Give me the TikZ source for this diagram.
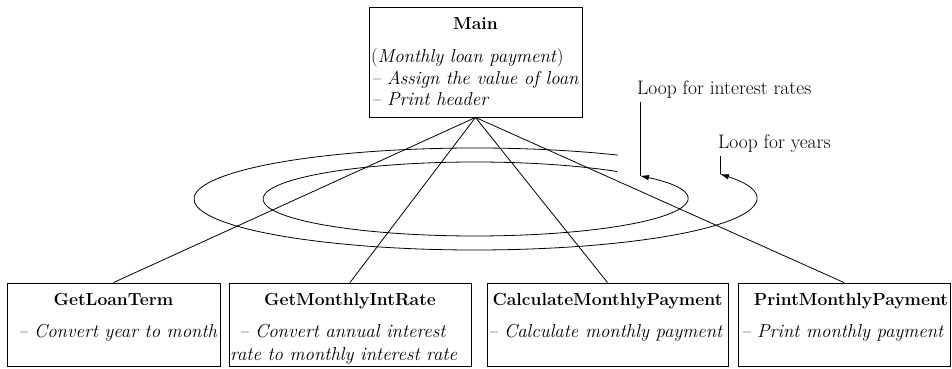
\documentclass[tikz,border=0pt]{standalone}
\usetikzlibrary{arrows.meta,calc}
\begin{document}
\begin{tikzpicture}[x=1pt,y=1pt,
  box/.style={draw, line width=0.9pt, inner sep=0pt, minimum height=83pt},
  ttl/.style={font=\fontsize{17.5}{21}\selectfont\bfseries, anchor=base, inner sep=0pt},
  desc/.style={font=\fontsize{18.8}{22}\selectfont\itshape, anchor=base west, inner sep=0pt},
  looplbl/.style={font=\fontsize{19.5}{22}\selectfont, anchor=base west, inner sep=3pt},
  link/.style={line width=0.8pt},
  loop/.style={line width=0.8pt, -{Latex[length=9pt,width=5.5pt]}},
  ]
\useasboundingbox (0,0) rectangle (952,369);

% main module
\node[box, minimum width=213pt, minimum height=110pt] (main) at (475.5,307) {};
\node[ttl] (mainT) at (475.5,339) {Main};
\node[desc] (mainA) at (371,306) {\textup{(}Monthly loan payment\textup{)}};
\node[desc] (mainB) at (371,284) {\textendash{} Assign the value of loan};
\node[desc] (mainC) at (371,263) {\textendash{} Print header};

% sub-modules
\node[box, minimum width=213pt] (b1) at (113.5,44.5) {};
\node[box, minimum width=242pt] (b2) at (350,44.5) {};
\node[box, minimum width=241pt] (b3) at (607.5,44.5) {};
\node[box, minimum width=212pt] (b4) at (844,44.5) {};

\node[ttl] (b1T) at (113.5,63) {GetLoanTerm};
\node[ttl] (b2T) at (350,63) {GetMonthlyIntRate};
\node[ttl] (b3T) at (607.5,63) {CalculateMonthlyPayment};
\node[ttl] (b4T) at (851,63) {PrintMonthlyPayment};

\node[desc] (b1D) at (18,31) {\textendash{} Convert year to month};
\node[desc] (b2D) at (239,31) {\textendash{} Convert annual interest};
\node[desc] (b2E) at (230,9) {rate to monthly interest rate};
\node[desc] (b3D) at (488,31) {\textendash{} Calculate monthly payment};
\node[desc] (b4D) at (741,31) {\textendash{} Print monthly payment};

% calls from the main module
\draw[link] (main.south) -- (b1.north);
\draw[link] (main.south) -- (b2.north);
\draw[link] (main.south) -- (b3.north);
\draw[link] (main.south) -- (b4.north);

% loops
\coordinate (c) at (475,170);
\coordinate (outS) at ($(c)+(59.4:281 and 51)$);
\coordinate (outE) at ($(c)+(29.3:281 and 51)$);
\coordinate (inS) at ($(c)+(47.9:212 and 37)$);
\coordinate (inE) at ($(c)+(38.9:212 and 37)$);
\draw[loop] (outS) arc[start angle=59.4, end angle=389.3, x radius=281, y radius=51];
\draw[loop] (inS) arc[start angle=47.9, end angle=398.9, x radius=212, y radius=37];

\node[looplbl] (rateLbl) at (634,274) {Loop for interest rates};
\node[looplbl] (yearLbl) at (715,220) {Loop for years};
\draw[link] (rateLbl.south -| inE) -- (inE);
\draw[link] (yearLbl.south -| outE) -- (outE);
\end{tikzpicture}
\end{document}
